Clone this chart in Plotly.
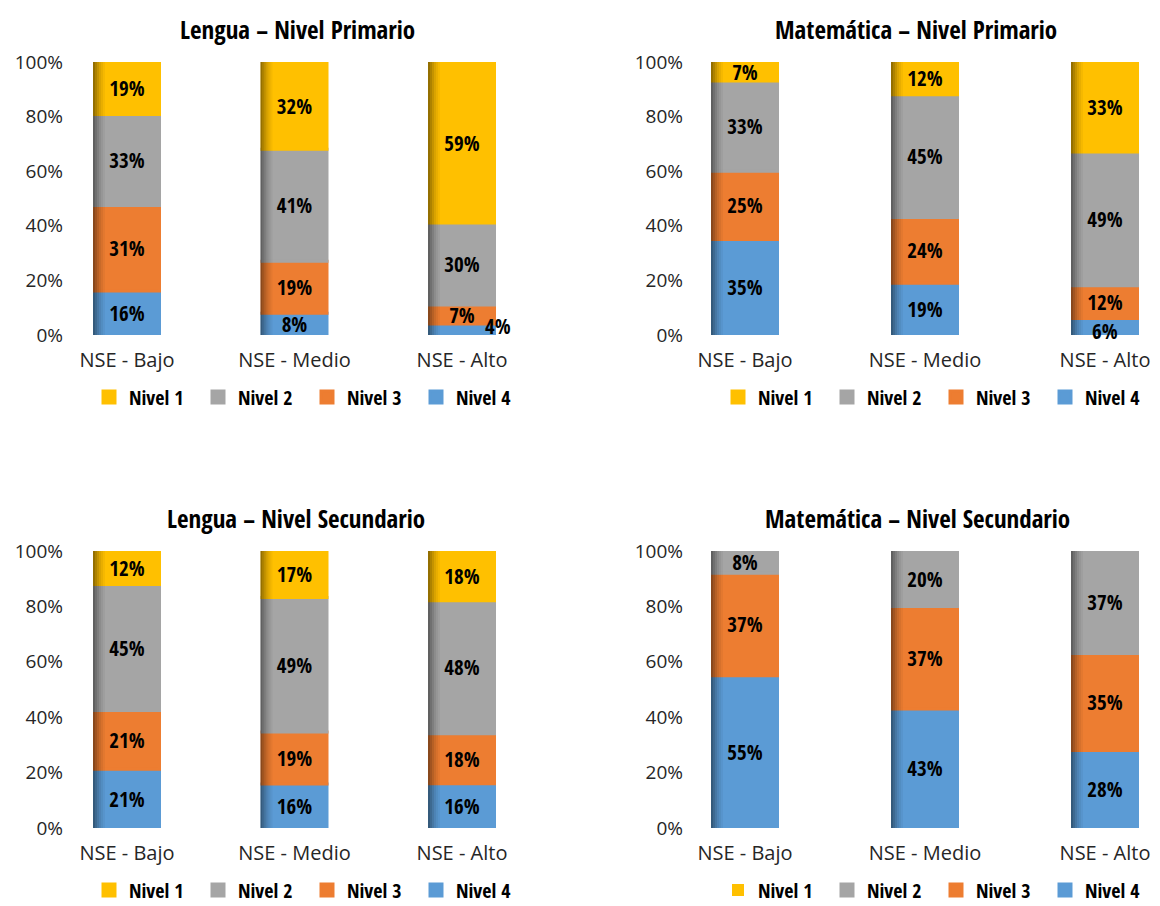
import plotly.graph_objects as go

# ---------------- data ----------------
categories = ["NSE - Bajo", "NSE - Medio", "NSE - Alto"]
levels = ["Nivel 1", "Nivel 2", "Nivel 3", "Nivel 4"]
y_ticks = [0, 20, 40, 60, 80, 100]

lengua_primario_n1 = [19, 32, 59]
lengua_primario_n2 = [33, 41, 30]
lengua_primario_n3 = [31, 19, 7]
lengua_primario_n4 = [16, 8, 4]

mate_primario_n1 = [7, 12, 33]
mate_primario_n2 = [33, 45, 49]
mate_primario_n3 = [25, 24, 12]
mate_primario_n4 = [35, 19, 6]

lengua_secundario_n1 = [12, 17, 18]
lengua_secundario_n2 = [45, 49, 48]
lengua_secundario_n3 = [21, 19, 18]
lengua_secundario_n4 = [21, 16, 16]

mate_secundario_n1 = [0, 0, 0]
mate_secundario_n2 = [8, 20, 37]
mate_secundario_n3 = [37, 37, 35]
mate_secundario_n4 = [55, 43, 28]

titles = ["Lengua – Nivel Primario", "Matemática – Nivel Primario",
          "Lengua – Nivel Secundario", "Matemática – Nivel Secundario"]

# ---------------- style ----------------
colors = {"Nivel 1": "#FFC000", "Nivel 2": "#A5A5A5", "Nivel 3": "#ED7D31", "Nivel 4": "#5B9BD5"}
COND = "Open Sans Condensed, Noto Sans ExtraCondensed, Noto Sans Condensed, DejaVu Sans Condensed, sans-serif"
SANS = "Open Sans, Noto Sans, sans-serif"
W, H = 1160, 906

panel_data = [
    [lengua_primario_n1, lengua_primario_n2, lengua_primario_n3, lengua_primario_n4],
    [mate_primario_n1, mate_primario_n2, mate_primario_n3, mate_primario_n4],
    [lengua_secundario_n1, lengua_secundario_n2, lengua_secundario_n3, lengua_secundario_n4],
    [mate_secundario_n1, mate_secundario_n2, mate_secundario_n3, mate_secundario_n4],
]

# layout geometry in pixels
geom = [
    dict(xdom=(72, 545), ydom=(335, 62), c0=127, sp=167.5, tx=297, ty=29, lx=89, ly=397),
    dict(xdom=(692, 1160), ydom=(335, 62), c0=745, sp=180, tx=916, ty=29, lx=718, ly=397),
    dict(xdom=(72, 545), ydom=(828, 551), c0=127, sp=167.5, tx=296, ty=518, lx=89, ly=890),
    dict(xdom=(692, 1160), ydom=(828, 551), c0=745, sp=180, tx=917, ty=518, lx=718, ly=890),
]

fig = go.Figure()
annotations = []
layout_extra = {}
label_font = dict(family=COND, size=21, color="#000000", weight="bold")

for i, (series, g, title) in enumerate(zip(panel_data, geom, titles)):
    k = "" if i == 0 else str(i + 1)
    xa, ya = "x" + k, "y" + k
    leg = "legend" + k
    bw = 65 / g["sp"]
    totals = [sum(s[j] for s in series) for j in range(len(categories))]
    norm = {lvl: [v / t * 100 for v, t in zip(s, totals)] for lvl, s in zip(levels, series)}
    raw = dict(zip(levels, series))

    base = [0.0] * len(categories)
    for lvl in reversed(levels):
        vals = norm[lvl]
        labels = []
        for j, v in enumerate(raw[lvl]):
            if v <= 0:
                labels.append("")
            elif v < 7:
                # very thin segment: label nudged as in the original
                labels.append("")
                annotations.append(dict(
                    text=f"{v}%", x=categories[j], y=base[j] + vals[j] / 2,
                    xref=xa, yref=ya, showarrow=False,
                    xshift=36 if v < 5 else 0, yshift=4 if v < 5 else -4,
                    font=label_font,
                ))
            else:
                labels.append(f"{v}%")
        fig.add_trace(go.Bar(
            x=categories, y=vals, base=list(base), width=bw,
            name=lvl, legend=leg, xaxis=xa, yaxis=ya,
            marker=dict(color=colors[lvl],
                        line=dict(color=colors[lvl], width=[3 if v > 0 else 0 for v in raw[lvl]])),
            text=labels,
            textposition="inside", insidetextanchor="middle", textangle=0,
            textfont=label_font,
            hoverinfo="skip",
        ))
        base = [b + v for b, v in zip(base, vals)]

    # left-edge shading strips (full stack height)
    sw = 2.0 / g["sp"]
    for j, a in enumerate([0.42, 0.32, 0.23, 0.15, 0.09, 0.04]):
        fig.add_trace(go.Bar(
            x=categories, y=base, base=[0] * len(categories), width=sw,
            offset=-bw / 2 - 1.5 / g["sp"] + j * sw, xaxis=xa, yaxis=ya,
            marker=dict(color=f"rgba(0,0,0,{a})", line=dict(width=0)),
            showlegend=False, hoverinfo="skip",
        ))

    x0, x1 = g["xdom"]
    yb, yt = g["ydom"]
    layout_extra["xaxis" + k] = dict(
        domain=[x0 / W, x1 / W], anchor=ya, type="category",
        categoryorder="array", categoryarray=categories,
        range=[(x0 - g["c0"]) / g["sp"], (x1 - g["c0"]) / g["sp"]],
        showgrid=False, zeroline=False, showline=False, ticks="",
        tickfont=dict(family=SANS, size=20, color="#262626"),
        ticklabelstandoff=11, fixedrange=True, automargin=False,
    )
    layout_extra["yaxis" + k] = dict(
        domain=[1 - yb / H, 1 - yt / H], anchor=xa, range=[0, 100],
        tickmode="array", tickvals=y_ticks, ticktext=[f"{t}%" for t in y_ticks],
        showgrid=False, zeroline=False, showline=False, ticks="",
        tickfont=dict(family=SANS, size=19, color="#262626"),
        ticklabelstandoff=8, fixedrange=True, automargin=False,
    )
    layout_extra[leg] = dict(
        orientation="h", x=g["lx"] / W, y=1 - g["ly"] / H,
        xanchor="left", yanchor="middle", traceorder="reversed",
        font=dict(family=COND, size=20, color="#000000", weight="bold"),
        entrywidth=64, entrywidthmode="pixels", itemwidth=30,
        bgcolor="rgba(0,0,0,0)", borderwidth=0, itemclick=False, itemdoubleclick=False,
    )
    annotations.append(dict(
        text=title, xref="paper", yref="paper",
        x=g["tx"] / W, y=1 - g["ty"] / H, xanchor="center", yanchor="middle",
        showarrow=False, font=dict(family=COND, size=25, color="#000000", weight="bold"),
    ))

fig.update_layout(
    width=W, height=H, margin=dict(l=0, r=0, t=0, b=0, autoexpand=False),
    paper_bgcolor="white", plot_bgcolor="white",
    barmode="overlay", showlegend=True,
    uniformtext=dict(minsize=21, mode="show"),
    annotations=annotations, hovermode=False,
    **layout_extra,
)

fig.write_html("out.html", config={"displayModeBar": False},
               post_script="document.body.style.margin='0';document.body.style.overflow='hidden';")
